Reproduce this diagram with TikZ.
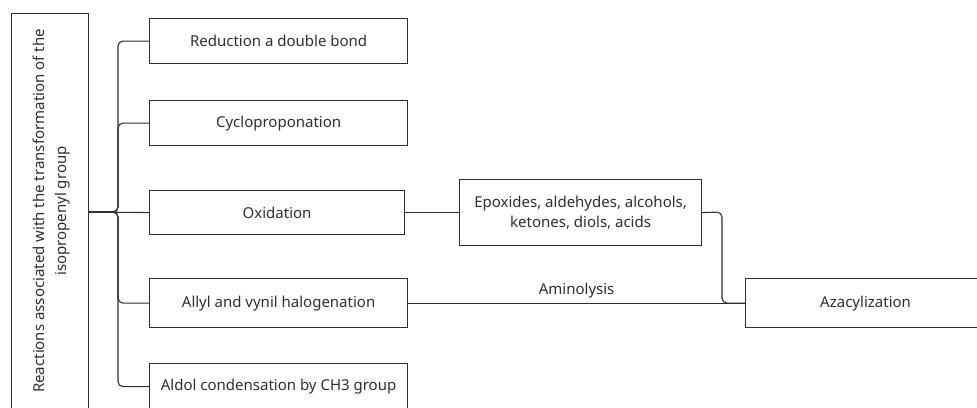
\documentclass[tikz,border=0pt]{standalone}
\usepackage{fontspec}
\setmainfont{Noto Sans}
\definecolor{ink}{HTML}{2E2E2E}
\begin{document}
\begin{tikzpicture}[x=1pt,y=-1pt,
  box/.style={draw=ink, line width=1.2pt, rectangle, inner sep=0pt, anchor=north west, align=center, text=ink, font=\fontsize{15}{20.5}\selectfont},
  conn/.style={draw=ink, line width=1.1pt, rounded corners=5pt}]
\useasboundingbox (0,0) rectangle (977,407);
\node[box, minimum width=77pt, minimum height=398pt] (L) at (11,13) {};
\node[text=ink, font=\fontsize{15}{22}\selectfont, align=center, rotate=90] (Lt) at (51.5,211) {Reactions associated with the transformation of the\\isopropenyl group};
\node[box, minimum width=258pt, minimum height=45pt] (b1) at (149,18) {Reduction a double bond};
\node[box, minimum width=258pt, minimum height=45pt] (b2) at (149,100) {Cycloproponation};
\node[box, minimum width=255pt, minimum height=44pt] (b3) at (149,190) {Oxidation};
\node[box, minimum width=258pt, minimum height=49pt] (b4) at (149,278) {Allyl and vynil halogenation};
\node[box, minimum width=258pt, minimum height=46pt] (b5) at (149,363) {Aldol condensation by CH3 group};
\node[box, minimum width=242pt, minimum height=66pt] (e) at (459,179) {Epoxides, aldehydes, alcohols,\\ketones, diols, acids};
\node[box, minimum width=240pt, minimum height=49pt] (az) at (745,278) {Azacylization};
\coordinate (j) at (118,212);
\coordinate (k) at (722,212);
\draw[conn] (L.east |- j) -- (j) -- (j |- b1.west) -- (b1.west);
\draw[conn] (L.east |- j) -- (j) -- (j |- b2.west) -- (b2.west);
\draw[conn] (L.east |- j) -- (b3.west);
\draw[conn] (L.east |- j) -- (j) -- (j |- b4.west) -- (b4.west);
\draw[conn] (L.east |- j) -- (j) -- (j |- b5.west) -- (b5.west);
\draw[conn] (b3.east) -- (e.west);
\draw[conn] (e.east) -- (k) -- (k |- az.west) -- (az.west);
\draw[conn] (b4.east) -- node[above=1pt, text=ink, font=\fontsize{15}{18}\selectfont] (am) {Aminolysis} (az.west);
\end{tikzpicture}
\end{document}
